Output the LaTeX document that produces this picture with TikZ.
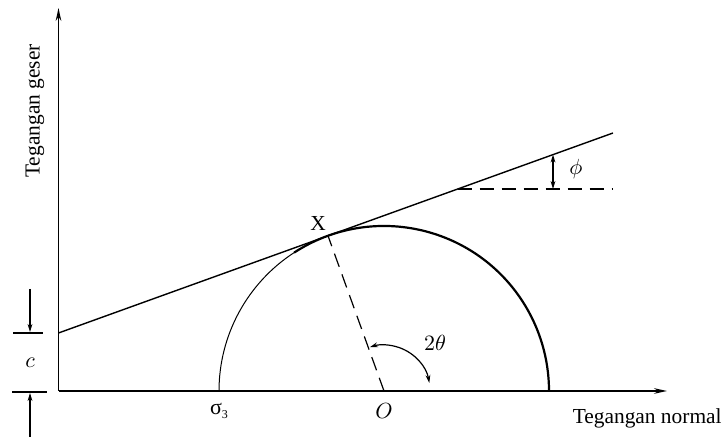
\documentclass[tikz,border=0pt]{standalone}
\usepackage{fontspec}
\setmainfont{Liberation Serif}
\usetikzlibrary{arrows.meta,calc}
\begin{document}
\begin{tikzpicture}[x=0.5pt,y=0.5pt,
  axis/.style={line width=0.8pt,-{Stealth[length=6.5pt,width=2.8pt]}},
  dimarrow/.style={line width=0.6pt,-{Stealth[length=4pt,width=2.4pt]}},
  bothtips/.style={line width=0.6pt,{Stealth[length=4pt,width=2.4pt]}-{Stealth[length=4pt,width=2.4pt]}},
  lbl/.style={inner sep=0pt,font=\fontsize{10.7}{12}\selectfont},
  dashline/.style={line width=0.6pt,dash pattern=on 7pt off 4pt}]
\useasboundingbox (0,0) rectangle (723,437);
% key points
\coordinate (orig) at (58.5,46);
\coordinate (ytop) at (58.5,429);
\coordinate (xend) at (667,46);
\coordinate (cint) at (58.5,104);
\coordinate (eend) at (613,304);
\coordinate (O) at (384,46);
\coordinate (X) at (328,201.2);
\coordinate (dstart) at (457.7,248);
\coordinate (dend) at (613,248);
\coordinate (phitop) at (553,282.4);
\coordinate (phibot) at (553,248);
\coordinate (cl) at (219,46);
\coordinate (cr) at (549,46);
% axes
\draw[axis] (orig) -- (ytop);
\draw[axis] (orig) -- (xend);
% envelope
\draw[line width=0.7pt] (cint) -- (eend);
% Mohr circle
\draw[line width=0.5pt] (cl) arc[start angle=180,end angle=123,radius=165];
\draw[line width=1.1pt] ($(O)+(123:165)$) coordinate (thk) arc[start angle=123,end angle=0,radius=165];
% radius to X
\draw[dashline] (O) -- (X);
% horizontal dashed reference
\draw[dashline] (dstart) -- (dend);
% phi arrow
\draw[bothtips] (phitop) -- (phibot);
\node[lbl] (phi) at (576,268) {$\phi$};
% 2 theta arc
\draw[bothtips] ($(O)+(10:46)$) coordinate (tha) arc[start angle=10,end angle=108,radius=46];
\node[lbl] (twotheta) at (435,94) {$2\theta$};
% labels
\node[lbl] (Xl) at (318,213) {X};
\node[lbl,font=\fontsize{11}{12}\selectfont] (s3) at (219,26) {σ\raisebox{-0.35ex}{\fontsize{6}{7}\selectfont 3}};
\node[lbl] (Ol) at (384,26) {$O$};
\node[lbl,anchor=east] (xlab) at (722,19) {Tegangan normal};
\node[lbl,rotate=90] (ylab) at (35,326) {Tegangan geser};
% cohesion c
\coordinate (ub1) at (13,104);
\coordinate (ub2) at (43,104);
\coordinate (lb1) at (12,45);
\coordinate (lb2) at (47,45);
\draw[line width=0.6pt] (ub1) -- (ub2);
\draw[line width=0.6pt] (lb1) -- (lb2);
\coordinate (ua) at (30,148);
\coordinate (la) at (30,0);
\draw[dimarrow] (ua) -- (30,105);
\draw[dimarrow] (la) -- (30,44);
\node[lbl] (cl) at (30,74) {$c$};
\end{tikzpicture}
\end{document}
